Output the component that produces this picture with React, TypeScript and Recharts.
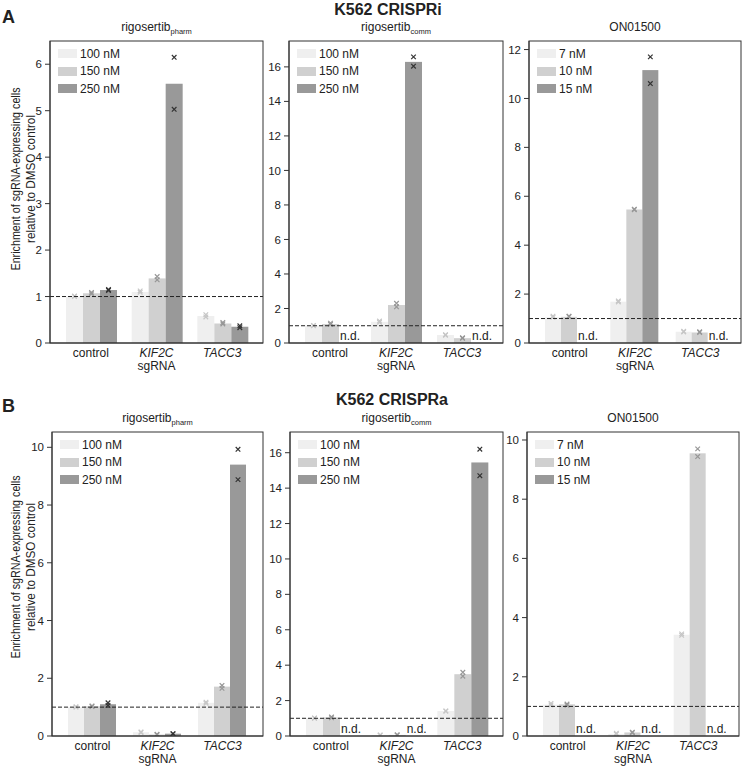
import React from 'react'
import { Bar, BarChart, ReferenceLine, XAxis, YAxis } from 'recharts'

const FONT = '"Liberation Sans", Arial, Helvetica, sans-serif'
const INK = '#222'
const FRAME = '#333'

const categories = ['control', 'KIF2C', 'TACC3']
const rigoDoses = ['100 nM', '150 nM', '250 nM']
const onDoses = ['7 nM', '10 nM', '15 nM']
const doseColors = ['#efefef', '#d0d0d0', '#999999']
const markColors = ['#c6c6c6', '#979797', '#333333']

// mean enrichment per dose, one value per category; null = n.d.
// CRISPRi
const iPharm100 = [1.0, 1.1, 0.58]
const iPharm150 = [1.07, 1.39, 0.42]
const iPharm250 = [1.14, 5.58, 0.35]
const iComm100 = [1.0, 1.23, 0.46]
const iComm150 = [1.1, 2.2, 0.28]
const iComm250 = [null, 16.29, null]
const iOn7 = [1.05, 1.69, 0.46]
const iOn10 = [1.07, 5.46, 0.43]
const iOn15 = [null, 11.16, null]
// CRISPRa
const aPharm100 = [1.0, 0.13, 1.15]
const aPharm150 = [1.03, 0.05, 1.71]
const aPharm250 = [1.1, 0.08, 9.4]
const aComm100 = [1.0, 0.05, 1.41]
const aComm150 = [1.05, 0.06, 3.49]
const aComm250 = [null, null, 15.45]
const aOn7 = [1.06, 0.07, 3.42]
const aOn10 = [1.07, 0.12, 9.55]
const aOn15 = [null, null, null]

// replicate points (x markers)
const iPharm100Reps = [[1.0, 1.01], [1.09, 1.12], [0.61, 0.56]]
const iPharm150Reps = [[1.06, 1.09], [1.36, 1.43], [0.41, 0.44]]
const iPharm250Reps = [[1.13, 1.15], [6.15, 5.03], [0.33, 0.37]]
const iComm100Reps = [[1.0, 1.02], [1.2, 1.27], [0.48, 0.45]]
const iComm150Reps = [[1.08, 1.15], [2.1, 2.3], [0.3, 0.27]]
const iComm250Reps = [[], [16.58, 16.04], []]
const iOn7Reps = [[1.1, 1.05], [1.72, 1.68], [0.48, 0.45]]
const iOn10Reps = [[1.1, 1.08], [5.47, 5.45], [0.46, 0.43]]
const iOn15Reps = [[], [11.7, 10.61], []]
const aPharm100Reps = [[1.0, 1.01], [0.14, 0.12], [1.17, 1.13]]
const aPharm150Reps = [[1.04, 1.02], [0.06, 0.04], [1.75, 1.65]]
const aPharm250Reps = [[1.15, 1.06], [0.08, 0.07], [9.93, 8.88]]
const aComm100Reps = [[1.0, 1.02], [0.06, 0.04], [1.42, 1.4]]
const aComm150Reps = [[1.08, 1.03], [0.07, 0.05], [3.6, 3.38]]
const aComm250Reps = [[], [], [16.2, 14.7]]
const aOn7Reps = [[1.1, 1.05], [0.09, 0.06], [3.45, 3.4]]
const aOn10Reps = [[1.08, 1.04], [0.13, 0.11], [9.7, 9.44]]
const aOn15Reps = [[], [], []]

type Row = { [key: string]: any }

function buildRows(values: (number | null)[][], reps: number[][][]): Row[] {
  return categories.map((cat, c) => {
    const row: Row = { cat }
    values.forEach((vals, i) => {
      row[`d${i}`] = vals[c] ?? 0
      row[`nd${i}`] = vals[c] == null
      row[`r${i}`] = reps[i][c]
    })
    return row
  })
}

type Panel = {
  left: number
  top: number
  w: number
  h: number
  max: number
  ticks: number[]
  drug: string
  sub?: string
  doses: string[]
  rows: Row[]
}

const panels: Panel[] = [
  {
    left: 50, top: 41, w: 213, h: 302, max: 6.5, ticks: [0, 1, 2, 3, 4, 5, 6],
    drug: 'rigosertib', sub: 'pharm', doses: rigoDoses,
    rows: buildRows([iPharm100, iPharm150, iPharm250], [iPharm100Reps, iPharm150Reps, iPharm250Reps]),
  },
  {
    left: 289, top: 41, w: 214, h: 302, max: 17.5, ticks: [0, 2, 4, 6, 8, 10, 12, 14, 16],
    drug: 'rigosertib', sub: 'comm', doses: rigoDoses,
    rows: buildRows([iComm100, iComm150, iComm250], [iComm100Reps, iComm150Reps, iComm250Reps]),
  },
  {
    left: 529, top: 41, w: 212, h: 302, max: 12.35, ticks: [0, 2, 4, 6, 8, 10, 12],
    drug: 'ON01500', doses: onDoses,
    rows: buildRows([iOn7, iOn10, iOn15], [iOn7Reps, iOn10Reps, iOn15Reps]),
  },
  {
    left: 52, top: 432, w: 211, h: 304, max: 10.53, ticks: [0, 2, 4, 6, 8, 10],
    drug: 'rigosertib', sub: 'pharm', doses: rigoDoses,
    rows: buildRows([aPharm100, aPharm150, aPharm250], [aPharm100Reps, aPharm150Reps, aPharm250Reps]),
  },
  {
    left: 290, top: 432, w: 213, h: 304, max: 17.17, ticks: [0, 2, 4, 6, 8, 10, 12, 14, 16],
    drug: 'rigosertib', sub: 'comm', doses: rigoDoses,
    rows: buildRows([aComm100, aComm150, aComm250], [aComm100Reps, aComm150Reps, aComm250Reps]),
  },
  {
    left: 527, top: 432, w: 212, h: 304, max: 10.27, ticks: [0, 2, 4, 6, 8, 10],
    drug: 'ON01500', doses: onDoses,
    rows: buildRows([aOn7, aOn10, aOn15], [aOn7Reps, aOn10Reps, aOn15Reps]),
  },
]

const YW = 40
const XH = 34

function makeShape(i: number) {
  return (p: any) => {
    const { x, y, width, height, payload } = p
    const base = y + height
    if (payload[`nd${i}`]) {
      return (
        <text x={x + 1} y={base - 3} fontSize={12} fontFamily={FONT} fill={INK}>
          n.d.
        </text>
      )
    }
    const v = payload[`d${i}`]
    const k = v > 0 ? height / v : 0
    const cx = x + width / 2
    return (
      <g>
        <rect x={x} y={y} width={width} height={height} fill={doseColors[i]} />
        {(payload[`r${i}`] as number[]).map((r, j) => {
          const cy = base - r * k
          return (
            <path
              key={j}
              d={`M${cx - 2.3},${cy - 2.3}L${cx + 2.3},${cy + 2.3}M${cx - 2.3},${cy + 2.3}L${cx + 2.3},${cy - 2.3}`}
              stroke={markColors[i]}
              strokeWidth={1.2}
            />
          )
        })}
      </g>
    )
  }
}

function CategoryTick(props: any) {
  const { x, y, payload } = props
  const name = payload.value as string
  const gene = name !== 'control'
  return (
    <g fontFamily={FONT} fontSize={12} fill={INK}>
      <text x={x} y={y + 14} textAnchor="middle" fontStyle={gene ? 'italic' : 'normal'}>
        {name}
      </text>
      {name === 'KIF2C' && (
        <text x={x} y={y + 27} textAnchor="middle">
          sgRNA
        </text>
      )}
    </g>
  )
}

function PanelChart({ panel }: { panel: Panel }) {
  const { left, top, w, h, max, ticks, rows } = panel
  return (
    <div style={{ position: 'absolute', left: left - YW, top: top - 1 }}>
      <BarChart
        width={YW + w + 1}
        height={1 + h + XH}
        data={rows}
        margin={{ top: 1, right: 1, bottom: 0, left: 0 }}
        barGap={0}
        barCategoryGap={8}
      >
        <XAxis
          dataKey="cat"
          height={XH}
          padding={{ left: 8, right: 8 }}
          tickLine={false}
          tickSize={0}
          tickMargin={0}
          axisLine={{ stroke: FRAME }}
          tick={<CategoryTick />}
          interval={0}
        />
        <YAxis
          width={YW}
          type="number"
          domain={[0, max]}
          ticks={ticks}
          allowDataOverflow
          tickSize={5}
          tickMargin={3}
          tickLine={{ stroke: FRAME }}
          axisLine={{ stroke: FRAME }}
          tick={{ fontSize: 11.5, fill: INK, fontFamily: FONT }}
        />
        {[0, 1, 2].map((i) => (
          <Bar key={i} dataKey={`d${i}`} fill={doseColors[i]} shape={makeShape(i)} isAnimationActive={false} />
        ))}
        <ReferenceLine y={1} stroke={INK} strokeDasharray="4 2" strokeWidth={1} />
      </BarChart>
    </div>
  )
}

function DoseLegend({ panel }: { panel: Panel }) {
  return (
    <div style={{ position: 'absolute', left: panel.left + 8, top: panel.top + 4, fontFamily: FONT, fontSize: 12, color: INK }}>
      {panel.doses.map((d, i) => (
        <div key={d} style={{ display: 'flex', alignItems: 'center', height: 17.5 }}>
          <span style={{ display: 'inline-block', width: 19, height: 9, background: doseColors[i], marginRight: 3 }} />
          <span>{d}</span>
        </div>
      ))}
    </div>
  )
}

function YLabel({ cy }: { cy: number }) {
  return (
    <g transform={`translate(0, ${cy}) rotate(-90)`} fontFamily={FONT} fontSize={12} fill={INK} textAnchor="middle">
      <text x={0} y={20} textLength={183} lengthAdjust="spacingAndGlyphs">
        Enrichment of sgRNA-expressing cells
      </text>
      <text x={0} y={34.5} textLength={128} lengthAdjust="spacingAndGlyphs">
        relative to DMSO control
      </text>
    </g>
  )
}

export default function App() {
  return (
    <div style={{ position: 'absolute', left: 0, top: 0, width: 744, height: 766, background: '#fff' }}>
      <svg width={744} height={766} style={{ position: 'absolute', left: 0, top: 0 }}>
        <g fontFamily={FONT} fill={INK}>
          <text x={2} y={23} fontSize={18} fontWeight="bold">A</text>
          <text x={388} y={15} fontSize={16} fontWeight="bold" textAnchor="middle">K562 CRISPRi</text>
          <text x={2} y={412} fontSize={18} fontWeight="bold">B</text>
          <text x={392} y={405} fontSize={16} fontWeight="bold" textAnchor="middle">K562 CRISPRa</text>
          {panels.map((p, k) => (
            <text key={k} x={p.left + p.w / 2} y={p.top - 10} fontSize={12} textAnchor="middle">
              {p.drug}
              {p.sub && (
                <tspan fontSize={7.5} dy={3} fill={INK}>
                  {p.sub}
                </tspan>
              )}
            </text>
          ))}
        </g>
        <YLabel cy={179} />
        <YLabel cy={567} />
      </svg>
      {panels.map((p, k) => (
        <PanelChart key={k} panel={p} />
      ))}
      <svg width={744} height={766} style={{ position: 'absolute', left: 0, top: 0, pointerEvents: 'none' }}>
        {panels.map((p, k) => (
          <rect key={k} x={p.left} y={p.top} width={p.w} height={p.h} fill="none" stroke={FRAME} strokeWidth={1} />
        ))}
      </svg>
      {panels.map((p, k) => (
        <DoseLegend key={k} panel={p} />
      ))}
    </div>
  )
}
